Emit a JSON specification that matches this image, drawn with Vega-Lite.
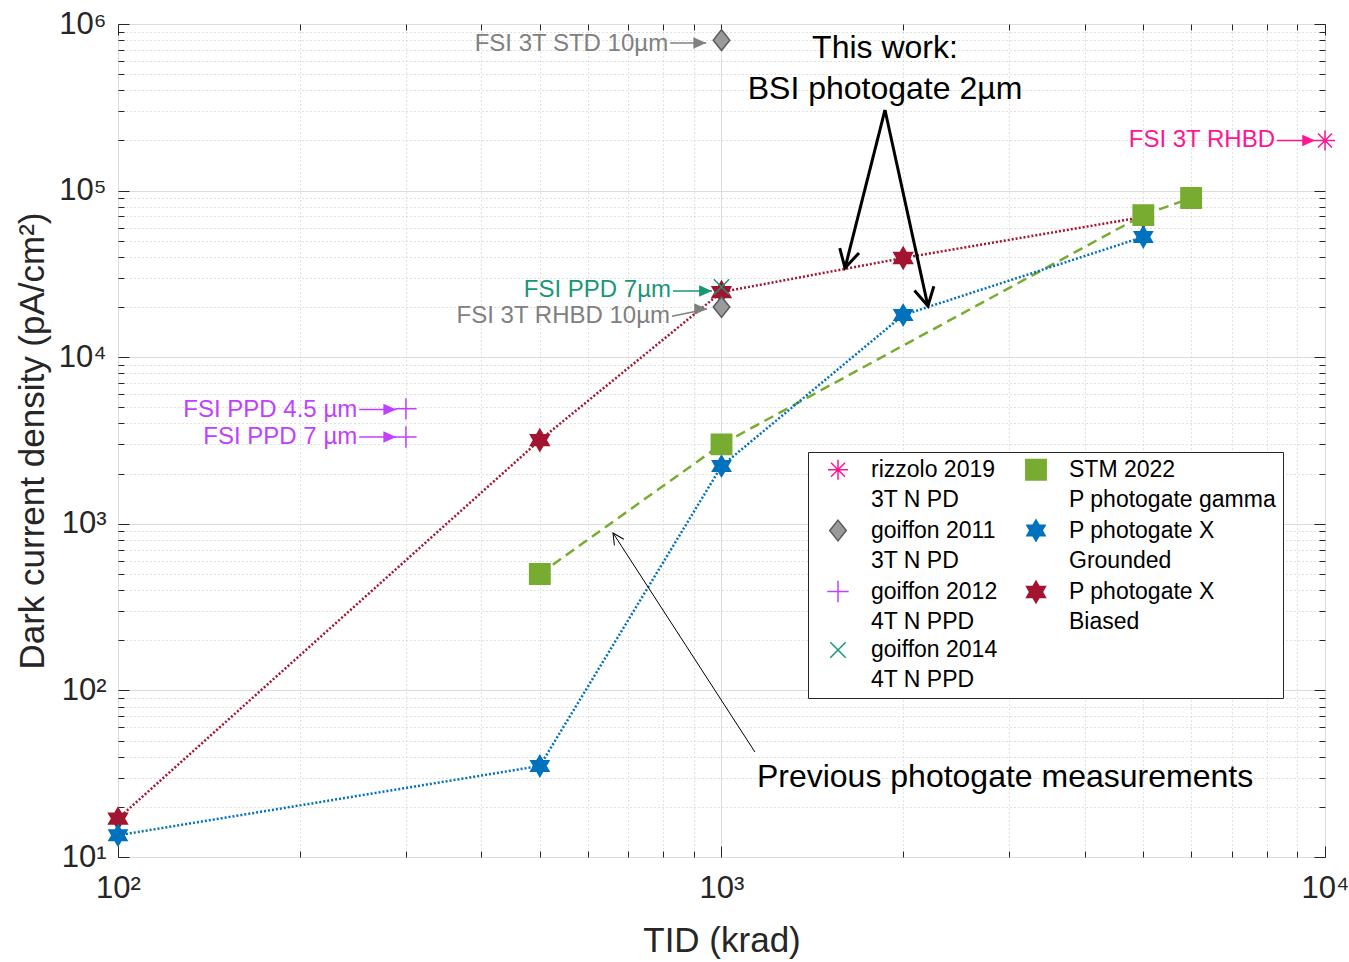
{
  "$schema": "https://vega.github.io/schema/vega-lite/v6.json",
  "width": 1207,
  "height": 833,
  "autosize": {"type": "none"},
  "padding": {"left": 118, "top": 24, "right": 24, "bottom": 105},
  "background": "white",
  "config": {
    "font": "Liberation Sans",
    "view": {"stroke": "#262626", "strokeWidth": 1},
    "style": {"guide-label": {"lineHeight": 30}}
  },
  "datasets": {
    "pts": [
      {"series": "P photogate X|Biased", "x": 100, "y": 17},
      {"series": "P photogate X|Biased", "x": 500, "y": 3180},
      {"series": "P photogate X|Biased", "x": 1000, "y": 24600},
      {"series": "P photogate X|Biased", "x": 2000, "y": 39400},
      {"series": "P photogate X|Biased", "x": 5000, "y": 69500},
      {"series": "P photogate X|Grounded", "x": 100, "y": 13.5},
      {"series": "P photogate X|Grounded", "x": 500, "y": 35.2},
      {"series": "P photogate X|Grounded", "x": 1000, "y": 2220},
      {"series": "P photogate X|Grounded", "x": 2000, "y": 17900},
      {"series": "P photogate X|Grounded", "x": 5000, "y": 52700},
      {"series": "STM 2022|P photogate gamma", "x": 500, "y": 500},
      {"series": "STM 2022|P photogate gamma", "x": 1000, "y": 3000},
      {"series": "STM 2022|P photogate gamma", "x": 5000, "y": 71300},
      {"series": "STM 2022|P photogate gamma", "x": 6000, "y": 90300},
      {"series": "rizzolo 2019|3T N PD", "x": 10000, "y": 200000},
      {"series": "goiffon 2011|3T N PD", "x": 1000, "y": 800000},
      {"series": "goiffon 2011|3T N PD", "x": 1000, "y": 20000},
      {"series": "goiffon 2012|4T N PPD", "x": 300, "y": 4900},
      {"series": "goiffon 2012|4T N PPD", "x": 300, "y": 3320},
      {"series": "goiffon 2014|4T N PPD", "x": 1000, "y": 26400}
    ],
    "arrows": [
      {"arrow": "std", "src": "goiffon 2011|3T N PD", "pt": "tail", "x": 822, "y": 770000},
      {"arrow": "std", "src": "goiffon 2011|3T N PD", "pt": "head", "x": 943, "y": 770000},
      {"arrow": "ppd7g", "src": "goiffon 2014|4T N PPD", "pt": "tail", "x": 831, "y": 25000},
      {"arrow": "ppd7g", "src": "goiffon 2014|4T N PPD", "pt": "head", "x": 964, "y": 25000},
      {"arrow": "rhbd10", "src": "goiffon 2011|3T N PD", "pt": "tail", "x": 828, "y": 17600},
      {"arrow": "rhbd10", "src": "goiffon 2011|3T N PD", "pt": "head", "x": 946, "y": 19460},
      {"arrow": "ppd45", "src": "goiffon 2012|4T N PPD", "pt": "tail", "x": 251, "y": 4850},
      {"arrow": "ppd45", "src": "goiffon 2012|4T N PPD", "pt": "head", "x": 289, "y": 4850},
      {"arrow": "ppd7p", "src": "goiffon 2012|4T N PPD", "pt": "tail", "x": 251, "y": 3320},
      {"arrow": "ppd7p", "src": "goiffon 2012|4T N PPD", "pt": "head", "x": 289, "y": 3320},
      {"arrow": "rhbd", "src": "rizzolo 2019|3T N PD", "pt": "tail", "x": 8326, "y": 200000},
      {"arrow": "rhbd", "src": "rizzolo 2019|3T N PD", "pt": "head", "x": 9626, "y": 200000},
      {"arrow": "tw1", "src": "note", "pt": "tail", "x": 1866, "y": 304700},
      {"arrow": "tw1", "src": "note", "pt": "head", "x": 1602, "y": 34300},
      {"arrow": "tw2", "src": "note", "pt": "tail", "x": 1866, "y": 304700},
      {"arrow": "tw2", "src": "note", "pt": "head", "x": 2198, "y": 20300},
      {"arrow": "prev", "src": "note", "pt": "tail", "x": 1136, "y": 42.7},
      {"arrow": "prev", "src": "note", "pt": "head", "x": 661, "y": 881}
    ],
    "labels": [
      {"label": "FSI 3T STD 10µm", "src": "goiffon 2011|3T N PD", "x": 822, "y": 760000},
      {"label": "FSI PPD 7µm", "src": "goiffon 2014|4T N PPD", "x": 831, "y": 25400},
      {"label": "FSI 3T RHBD 10µm", "src": "goiffon 2011|3T N PD", "x": 828, "y": 17600},
      {"label": "FSI PPD 4.5 µm", "src": "goiffon 2012|4T N PPD", "x": 251, "y": 4850},
      {"label": "FSI PPD 7 µm", "src": "goiffon 2012|4T N PPD", "x": 251, "y": 3320},
      {"label": "FSI 3T RHBD", "src": "rizzolo 2019|3T N PD", "x": 8326, "y": 200000}
    ],
    "notes": [
      {"label": "This work:", "x": 1866, "y": 718000},
      {"label": "BSI photogate 2µm", "x": 1866, "y": 407000},
      {"label": "Previous photogate measurements", "x": 2950, "y": 30.2}
    ]
  },
  "resolve": {"axis": {"x": "independent", "y": "independent"}},
  "layer": [
    {
      "layer": [
        {
          "data": {"name": "pts"},
          "transform": [{"filter": "datum.series == 'STM 2022|P photogate gamma'"}],
          "mark": {"type": "line", "color": "#77AC30", "strokeWidth": 2.5, "strokeDash": [10, 6]},
          "encoding": {
            "x": {
              "field": "x", "type": "quantitative",
              "scale": {"type": "log", "domain": [100, 10000], "nice": false},
              "axis": {
                "title": "TID (krad)", "orient": "bottom",
                "values": [100, 200, 300, 400, 500, 600, 700, 800, 900, 1000, 2000, 3000, 4000, 5000, 6000, 7000, 8000, 9000, 10000],
                "labelExpr": "datum.value == 100 ? '10²' : datum.value == 1000 ? '10³' : datum.value == 10000 ? '10⁴' : ''",
                "labelFontSize": 31, "labelColor": "#262626", "labelPadding": 16,
                "labelOverlap": false, "labelFlush": false, "labelBound": false,
                "ticks": false, "domain": false, "grid": true,
                "gridColor": {"condition": {"test": "datum.value == 100 || datum.value == 1000 || datum.value == 10000", "value": "#dcdcdc"}, "value": "#c2c2c2"},
                "gridDash": {"condition": {"test": "datum.value == 100 || datum.value == 1000 || datum.value == 10000", "value": []}, "value": [1, 3]},
                "gridWidth": 1,
                "titleFontSize": 35, "titleFontWeight": "normal", "titleColor": "#262626", "titlePadding": 20
              }
            },
            "y": {
              "field": "y", "type": "quantitative",
              "scale": {"type": "log", "domain": [10, 1000000], "nice": false},
              "axis": {
                "title": "Dark current density (pA/cm²)", "orient": "left",
                "values": [10, 20, 30, 40, 50, 60, 70, 80, 90, 100, 200, 300, 400, 500, 600, 700, 800, 900, 1000, 2000, 3000, 4000, 5000, 6000, 7000, 8000, 9000, 10000, 20000, 30000, 40000, 50000, 60000, 70000, 80000, 90000, 100000, 200000, 300000, 400000, 500000, 600000, 700000, 800000, 900000, 1000000],
                "labelExpr": "datum.value == 10 ? '10¹' : datum.value == 100 ? '10²' : datum.value == 1000 ? '10³' : datum.value == 10000 ? '10⁴' : datum.value == 100000 ? '10⁵' : datum.value == 1000000 ? '10⁶' : ''",
                "labelFontSize": 31, "labelColor": "#262626", "labelPadding": 12,
                "labelOverlap": false, "labelFlush": false, "labelBound": false,
                "ticks": false, "domain": false, "grid": true,
                "gridColor": {"condition": {"test": "datum.value == 10 || datum.value == 100 || datum.value == 1000 || datum.value == 10000 || datum.value == 100000 || datum.value == 1000000", "value": "#dcdcdc"}, "value": "#c2c2c2"},
                "gridDash": {"condition": {"test": "datum.value == 10 || datum.value == 100 || datum.value == 1000 || datum.value == 10000 || datum.value == 100000 || datum.value == 1000000", "value": []}, "value": [1, 3]},
                "gridWidth": 1,
                "titleFontSize": 35, "titleFontWeight": "normal", "titleColor": "#262626", "titlePadding": 8
              }
            }
          }
        },
        {
          "data": {"name": "pts"},
          "transform": [{"filter": "datum.series == 'P photogate X|Grounded'"}],
          "mark": {"type": "line", "color": "#0072BD", "strokeWidth": 2.5, "strokeDash": [2, 2]},
          "encoding": {
            "x": {"field": "x", "type": "quantitative", "scale": {"type": "log", "domain": [100, 10000], "nice": false}},
            "y": {"field": "y", "type": "quantitative", "scale": {"type": "log", "domain": [10, 1000000], "nice": false}}
          }
        },
        {
          "data": {"name": "pts"},
          "transform": [{"filter": "datum.series == 'P photogate X|Biased'"}],
          "mark": {"type": "line", "color": "#A2142F", "strokeWidth": 2.5, "strokeDash": [2, 2]},
          "encoding": {
            "x": {"field": "x", "type": "quantitative", "scale": {"type": "log", "domain": [100, 10000], "nice": false}},
            "y": {"field": "y", "type": "quantitative", "scale": {"type": "log", "domain": [10, 1000000], "nice": false}}
          }
        },
        {
          "data": {"name": "arrows"},
          "transform": [{"filter": "datum.src != 'note'"}],
          "mark": {"type": "line", "strokeWidth": 1.5},
          "encoding": {
            "x": {"field": "x", "type": "quantitative", "scale": {"type": "log", "domain": [100, 10000], "nice": false}},
            "y": {"field": "y", "type": "quantitative", "scale": {"type": "log", "domain": [10, 1000000], "nice": false}},
            "detail": {"field": "arrow"},
            "color": {"field": "src", "type": "nominal", "legend": null,
              "scale": {"domain": ["rizzolo 2019|3T N PD", "goiffon 2011|3T N PD", "goiffon 2012|4T N PPD", "goiffon 2014|4T N PPD", "note"], "range": ["#ff1493", "#808080", "#bf40ff", "#1a9676", "#000000"]}}
          }
        },
        {
          "data": {"name": "arrows"},
          "transform": [{"filter": "datum.src != 'note' && datum.pt == 'head'"}],
          "mark": {"type": "point", "shape": "M0,0L-1,-0.45L-1,0.45Z", "size": 650, "filled": true, "opacity": 1, "strokeWidth": 0},
          "encoding": {
            "x": {"field": "x", "type": "quantitative", "scale": {"type": "log", "domain": [100, 10000], "nice": false}},
            "y": {"field": "y", "type": "quantitative", "scale": {"type": "log", "domain": [10, 1000000], "nice": false}},
            "color": {"field": "src", "type": "nominal", "legend": null}
          }
        },
        {
          "data": {"name": "arrows"},
          "transform": [{"filter": "datum.arrow == 'tw1' || datum.arrow == 'tw2'"}],
          "mark": {"type": "line", "strokeWidth": 3, "color": "#000000"},
          "encoding": {
            "x": {"field": "x", "type": "quantitative", "scale": {"type": "log", "domain": [100, 10000], "nice": false}},
            "y": {"field": "y", "type": "quantitative", "scale": {"type": "log", "domain": [10, 1000000], "nice": false}},
            "detail": {"field": "arrow"}
          }
        },
        {
          "data": {"name": "arrows"},
          "transform": [{"filter": "datum.arrow == 'prev'"}],
          "mark": {"type": "line", "strokeWidth": 1, "color": "#000000"},
          "encoding": {
            "x": {"field": "x", "type": "quantitative", "scale": {"type": "log", "domain": [100, 10000], "nice": false}},
            "y": {"field": "y", "type": "quantitative", "scale": {"type": "log", "domain": [10, 1000000], "nice": false}}
          }
        },
        {
          "data": {"name": "arrows"},
          "transform": [{"filter": "datum.arrow == 'tw1' && datum.pt == 'head'"}],
          "mark": {"type": "point", "shape": "M-1,-0.55L0,0L-1,0.55", "size": 1300, "filled": false, "color": "#000000", "strokeWidth": 3, "opacity": 1, "angle": 104},
          "encoding": {
            "x": {"field": "x", "type": "quantitative", "scale": {"type": "log", "domain": [100, 10000], "nice": false}},
            "y": {"field": "y", "type": "quantitative", "scale": {"type": "log", "domain": [10, 1000000], "nice": false}}
          }
        },
        {
          "data": {"name": "arrows"},
          "transform": [{"filter": "datum.arrow == 'tw2' && datum.pt == 'head'"}],
          "mark": {"type": "point", "shape": "M-1,-0.55L0,0L-1,0.55", "size": 1300, "filled": false, "color": "#000000", "strokeWidth": 3, "opacity": 1, "angle": 78},
          "encoding": {
            "x": {"field": "x", "type": "quantitative", "scale": {"type": "log", "domain": [100, 10000], "nice": false}},
            "y": {"field": "y", "type": "quantitative", "scale": {"type": "log", "domain": [10, 1000000], "nice": false}}
          }
        },
        {
          "data": {"name": "arrows"},
          "transform": [{"filter": "datum.arrow == 'prev' && datum.pt == 'head'"}],
          "mark": {"type": "point", "shape": "M-1,-0.5L0,0L-1,0.5", "size": 500, "filled": false, "color": "#000000", "strokeWidth": 1, "opacity": 1, "angle": 237},
          "encoding": {
            "x": {"field": "x", "type": "quantitative", "scale": {"type": "log", "domain": [100, 10000], "nice": false}},
            "y": {"field": "y", "type": "quantitative", "scale": {"type": "log", "domain": [10, 1000000], "nice": false}}
          }
        },
        {
          "data": {"name": "pts"},
          "mark": {"type": "point", "strokeWidth": 1.5, "opacity": 1},
          "encoding": {
            "x": {"field": "x", "type": "quantitative", "scale": {"type": "log", "domain": [100, 10000], "nice": false}},
            "y": {"field": "y", "type": "quantitative", "scale": {"type": "log", "domain": [10, 1000000], "nice": false}},
            "shape": {
              "field": "series", "type": "nominal",
              "scale": {
                "domain": ["rizzolo 2019|3T N PD", "STM 2022|P photogate gamma", "goiffon 2011|3T N PD", "P photogate X|Grounded", "goiffon 2012|4T N PPD", "P photogate X|Biased", "goiffon 2014|4T N PPD"],
                "range": [
                  "M0,-1L0,1M-1,0L1,0M-0.7,-0.7L0.7,0.7M-0.7,0.7L0.7,-0.7",
                  "square",
                  "M0,-1L0.8,0L0,1L-0.8,0Z",
                  "M0,-1L0.289,-0.5L0.866,-0.5L0.577,0L0.866,0.5L0.289,0.5L0,1L-0.289,0.5L-0.866,0.5L-0.577,0L-0.866,-0.5L-0.289,-0.5Z",
                  "M0,-1L0,1M-1,0L1,0",
                  "M0,-1L0.289,-0.5L0.866,-0.5L0.577,0L0.866,0.5L0.289,0.5L0,1L-0.289,0.5L-0.866,0.5L-0.577,0L-0.866,-0.5L-0.289,-0.5Z",
                  "M-0.7,-0.7L0.7,0.7M-0.7,0.7L0.7,-0.7"
                ]
              },
              "legend": {
                "title": null, "orient": "none", "legendX": 690, "legendY": 428,
                "columns": 2, "direction": "horizontal",
                "strokeColor": "#262626", "fillColor": "white", "padding": 6,
                "labelFontSize": 23, "labelColor": "#000000", "labelLimit": 400,
                "labelExpr": "split(datum.label, '|')",
                "symbolOffset": 12, "labelOffset": 21, "columnPadding": 14, "rowPadding": 4,
                "symbolStrokeWidth": 1.5
              }
            },
            "stroke": {
              "field": "series", "type": "nominal",
              "scale": {
                "domain": ["rizzolo 2019|3T N PD", "STM 2022|P photogate gamma", "goiffon 2011|3T N PD", "P photogate X|Grounded", "goiffon 2012|4T N PPD", "P photogate X|Biased", "goiffon 2014|4T N PPD"],
                "range": ["#ff1493", "#77AC30", "#5a5a5a", "#0072BD", "#bf40ff", "#A2142F", "#1a9676"]
              }
            },
            "fill": {
              "field": "series", "type": "nominal",
              "scale": {
                "domain": ["rizzolo 2019|3T N PD", "STM 2022|P photogate gamma", "goiffon 2011|3T N PD", "P photogate X|Grounded", "goiffon 2012|4T N PPD", "P photogate X|Biased", "goiffon 2014|4T N PPD"],
                "range": ["transparent", "#77AC30", "#9a9a9a", "#0072BD", "transparent", "#A2142F", "transparent"]
              }
            },
            "size": {
              "field": "series", "type": "nominal",
              "scale": {
                "domain": ["rizzolo 2019|3T N PD", "STM 2022|P photogate gamma", "goiffon 2011|3T N PD", "P photogate X|Grounded", "goiffon 2012|4T N PPD", "P photogate X|Biased", "goiffon 2014|4T N PPD"],
                "range": [400, 484, 784, 484, 576, 484, 400]
              }
            }
          }
        },
        {
          "data": {"name": "labels"},
          "mark": {"type": "text", "align": "right", "baseline": "middle", "fontSize": 24, "dx": -2},
          "encoding": {
            "x": {"field": "x", "type": "quantitative", "scale": {"type": "log", "domain": [100, 10000], "nice": false}},
            "y": {"field": "y", "type": "quantitative", "scale": {"type": "log", "domain": [10, 1000000], "nice": false}},
            "text": {"field": "label"},
            "color": {"field": "src", "type": "nominal", "legend": null}
          }
        },
        {
          "data": {"name": "notes"},
          "mark": {"type": "text", "align": "center", "baseline": "middle", "fontSize": 32, "color": "#000000"},
          "encoding": {
            "x": {"field": "x", "type": "quantitative", "scale": {"type": "log", "domain": [100, 10000], "nice": false}},
            "y": {"field": "y", "type": "quantitative", "scale": {"type": "log", "domain": [10, 1000000], "nice": false}},
            "text": {"field": "label"}
          }
        }
      ]
    },
    {
      "data": {"name": "pts"},
      "mark": {"type": "point", "opacity": 0},
      "encoding": {
        "x": {
          "field": "x", "type": "quantitative",
          "scale": {"type": "log", "domain": [100, 10000], "nice": false},
          "axis": {
            "orient": "top", "title": null, "labels": false, "domain": false, "grid": false,
            "values": [100, 200, 300, 400, 500, 600, 700, 800, 900, 1000, 2000, 3000, 4000, 5000, 6000, 7000, 8000, 9000, 10000],
            "ticks": true, "tickColor": "#262626", "tickWidth": 1,
            "tickSize": {"condition": {"test": "datum.value == 100 || datum.value == 1000 || datum.value == 10000", "value": -11}, "value": -6}
          }
        },
        "y": {
          "field": "y", "type": "quantitative",
          "scale": {"type": "log", "domain": [10, 1000000], "nice": false},
          "axis": {
            "orient": "right", "title": null, "labels": false, "domain": false, "grid": false,
            "values": [10, 20, 30, 40, 50, 60, 70, 80, 90, 100, 200, 300, 400, 500, 600, 700, 800, 900, 1000, 2000, 3000, 4000, 5000, 6000, 7000, 8000, 9000, 10000, 20000, 30000, 40000, 50000, 60000, 70000, 80000, 90000, 100000, 200000, 300000, 400000, 500000, 600000, 700000, 800000, 900000, 1000000],
            "ticks": true, "tickColor": "#262626", "tickWidth": 1,
            "tickSize": {"condition": {"test": "datum.value == 10 || datum.value == 100 || datum.value == 1000 || datum.value == 10000 || datum.value == 100000 || datum.value == 1000000", "value": -11}, "value": -6}
          }
        }
      }
    },
    {
      "data": {"name": "pts"},
      "mark": {"type": "point", "opacity": 0},
      "encoding": {
        "x": {
          "field": "x", "type": "quantitative",
          "scale": {"type": "log", "domain": [100, 10000], "nice": false},
          "axis": {
            "orient": "bottom", "title": null, "labels": false, "domain": false, "grid": false,
            "values": [100, 200, 300, 400, 500, 600, 700, 800, 900, 1000, 2000, 3000, 4000, 5000, 6000, 7000, 8000, 9000, 10000],
            "ticks": true, "tickColor": "#262626", "tickWidth": 1,
            "tickSize": {"condition": {"test": "datum.value == 100 || datum.value == 1000 || datum.value == 10000", "value": -11}, "value": -6}
          }
        },
        "y": {
          "field": "y", "type": "quantitative",
          "scale": {"type": "log", "domain": [10, 1000000], "nice": false},
          "axis": {
            "orient": "left", "title": null, "labels": false, "domain": false, "grid": false,
            "values": [10, 20, 30, 40, 50, 60, 70, 80, 90, 100, 200, 300, 400, 500, 600, 700, 800, 900, 1000, 2000, 3000, 4000, 5000, 6000, 7000, 8000, 9000, 10000, 20000, 30000, 40000, 50000, 60000, 70000, 80000, 90000, 100000, 200000, 300000, 400000, 500000, 600000, 700000, 800000, 900000, 1000000],
            "ticks": true, "tickColor": "#262626", "tickWidth": 1,
            "tickSize": {"condition": {"test": "datum.value == 10 || datum.value == 100 || datum.value == 1000 || datum.value == 10000 || datum.value == 100000 || datum.value == 1000000", "value": -11}, "value": -6}
          }
        }
      }
    }
  ]
}
